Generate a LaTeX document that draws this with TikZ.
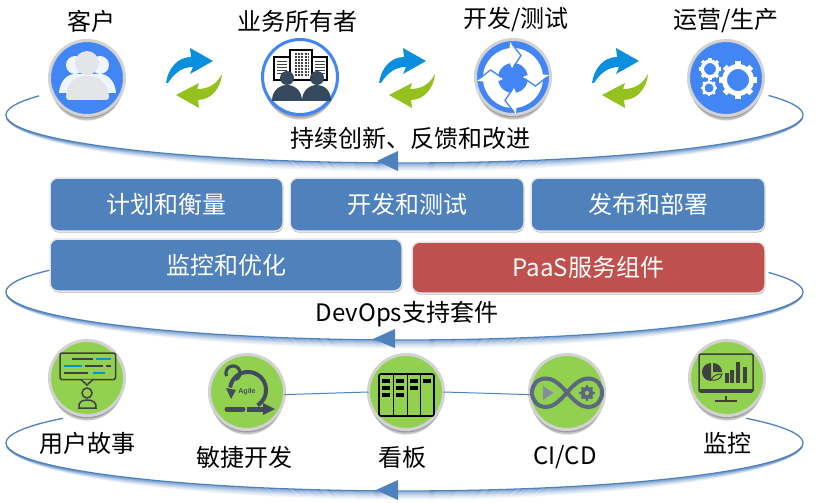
\documentclass[tikz,border=0pt]{standalone}
\usepackage{fontspec}
\setmainfont{Noto Sans CJK SC}
\newfontfamily\agilefont{Liberation Sans}
\usetikzlibrary{shadows}
\definecolor{arcblue}{HTML}{4F81BD}
\definecolor{badgeblue}{HTML}{4285F4}
\definecolor{badgegreen}{HTML}{92D050}
\definecolor{ringgray}{HTML}{D2D2D2}
\definecolor{panelred}{HTML}{C0504D}
\definecolor{syncblue}{HTML}{0A8FDF}
\definecolor{syncgreen}{HTML}{95C11F}
\definecolor{inkdark}{HTML}{404040}
\definecolor{inkslate}{HTML}{34495E}
\definecolor{inkagile}{HTML}{424A5E}
\definecolor{inkloop}{HTML}{5C6780}
\tikzset{
  badge/.style={circle, draw=ringgray, line width=3, inner sep=0, outer sep=0, minimum size=75,
    general shadow={shadow yshift=-8pt, shadow scale=.94, fill=black, opacity=.10},
    general shadow={shadow yshift=-6pt, shadow scale=.97, fill=black, opacity=.14},
    general shadow={shadow yshift=-3pt, fill=black, opacity=.20}},
  panel/.style={draw=white!90!black, line width=1.5, rounded corners=8, inner sep=0, outer sep=0,
    text=white, font=\fontsize{24}{28}\selectfont, minimum height=53,
    general shadow={shadow yshift=-1.5pt, shadow xshift=.5pt, fill=black, opacity=.28}},
  caption/.style={inner sep=0, text=black, font=\fontsize{24}{28}\selectfont},
  ringline/.style={arcblue, line width=1.3},
}
% x y inner outer colour
\newcommand{\gearicon}[5]{
  \begin{scope}[shift={(#1,#2)}]
    \draw[#5, line width={#4-#3}] (0,0) circle ({(#3+#4)/2});
    \foreach \a in {0,45,...,315}
      \draw[#5, line width={(#4)*.34}] (\a:#3) -- (\a:{#4+(#4)*.18});
  \end{scope}}
% one ring: centre y, then start and end of the visible part
\newcommand{\ringarc}[3]{
  \foreach \k/\o in {1/.55,2/.45,3/.35,4/.27,5/.2,6/.14,7/.09,8/.05}
    \draw[arcblue, line width=1.3, opacity=\o, domain=176:4, samples=90]
      plot ({404.5+398.5*cos(\x)}, {#1+(48+\k)*sin(\x)});
  \draw[ringline, domain=#2:#3, samples=120] plot ({404.5+398.5*cos(\x)}, {#1+48*sin(\x)});}
\begin{document}
\begin{tikzpicture}[x=1pt,y=-1pt]
  \useasboundingbox (0,0) rectangle (820,503);
  %rings
  \ringarc{115}{203.5}{-24}
  \ringarc{292}{211}{-24}
  \ringarc{443}{211}{-31}
  \fill[arcblue] (377,161) -- (398,151) -- (398,171) -- cycle;
  \fill[arcblue] (373,339) -- (395,329) -- (395,348) -- cycle;
  \fill[arcblue] (376,490) -- (398,480) -- (398,500) -- cycle;
  %top row
  \node[badge, fill=badgeblue] (customer) at (87,78) {};
  \node[badge, fill=white, draw=badgeblue] (owner) at (300,77) {};
  \node[badge, fill=badgeblue] (devtest) at (513,77) {};
  \node[badge, fill=badgeblue] (ops) at (726,78) {};
  \node[caption] (customerlabel) at (91,21) {客户};
  \node[caption] (ownerlabel) at (297,21) {业务所有者};
  \node[caption] (devtestlabel) at (516,20) {开发/测试};
  \node[caption] (opslabel) at (726,21) {运营/生产};
  \node[caption] (feedbacklabel) at (410,138) {持续创新、反馈和改进};
  %sync arrows
  \foreach \dx in {0,213,426} {
    \begin{scope}[shift={(\dx,0)}]
      \fill[syncblue] (166,83) .. controls (168,68) and (178,57) .. (191,57) -- (190,48) -- (213,61)
        -- (190,74) -- (193,67) .. controls (183,67) and (175,72) .. (168,83) -- cycle;
      \fill[syncgreen] (222,74) .. controls (221,88) and (211,100) .. (198,100) -- (199,108) -- (176,95)
        -- (199,83) -- (197,89) .. controls (208,89) and (216,85) .. (222,74) -- cycle;
    \end{scope}
  }
  %customer icon
  \fill[white!92!badgeblue] (75,65) circle (9) (100,65) circle (9);
  \fill[white!92!badgeblue] (59,93) .. controls (60,80) and (68,74) .. (75,74) -- (100,74) .. controls (107,74) and (115,80) .. (116,93) -- cycle;
  \fill[white!86!inkslate] (87,63) circle (12);
  \fill[white!86!inkslate, rounded corners=3] (66,100) .. controls (66,84) and (76,76) .. (87,76) .. controls (98,76) and (109,84) .. (109,100) -- cycle;
  %owner icon
  \draw[black, line width=1.2, fill=white] (274,57) rectangle (290,80) (312,57) rectangle (327,80) (290,50) rectangle (312,80);
  \foreach \y in {61,64,...,73}
    \draw[inkdark, line width=.9] (277,\y) -- (287,\y) (315,\y) -- (325,\y);
  \foreach \y in {54,57,...,75}
    \draw[inkdark, line width=1.1, dash pattern=on 2pt off 1.2pt] (295,\y) -- (308,\y);
  \fill[inkslate] (287,78) circle (7) (317,78) circle (7);
  \fill[inkslate] (272,101) .. controls (272,90) and (280,85) .. (287,85) .. controls (294,85) and (302,90) .. (302,101) -- cycle;
  \fill[inkslate] (302,101) .. controls (302,90) and (310,85) .. (317,85) .. controls (324,85) and (331,90) .. (331,101) -- cycle;
  %dev icon
  \fill[white] (513,78) circle (30);
  \fill[badgeblue] (513,78) circle (15);
  \begin{scope}[shift={(513,78)}]
    \foreach \a in {0,90,180,270} {
      \begin{scope}[rotate=\a]
        \fill[white] (-3,-36) -- (8,-22.5) -- (-4,-22.5) -- cycle;
        \fill[white] (-3,-14.5) -- (3,-16) -- (-1,-10) -- cycle;
        \draw[badgeblue, line width=1.3] (1,-12) -- (8,-22.5) -- (-1,-34);
      \end{scope}
    }
  \end{scope}
  %ops icon
  \gearicon{738}{80}{11}{16}{white}
  \gearicon{710}{69}{6}{9.5}{white}
  \gearicon{709}{88}{4.5}{7}{white}
  %panels
  \node[panel, fill=arcblue, minimum width=233] (plan) at (166.5,204.5) {计划和衡量};
  \node[panel, fill=arcblue, minimum width=234] (build) at (407,204.5) {开发和测试};
  \node[panel, fill=arcblue, minimum width=234] (release) at (648,204.5) {发布和部署};
  \node[panel, fill=arcblue, minimum width=352, minimum height=52] (watch) at (226,265) {监控和优化};
  \node[panel, fill=panelred, minimum width=353, minimum height=51] (paas) at (588.5,267.5) {PaaS服务组件};
  \node[caption] (suitelabel) at (407,314) {DevOps支持套件};
  %bottom row
  \node[badge, fill=badgegreen] (story) at (87,378) {};
  \node[badge, fill=badgegreen] (agile) at (247,392) {};
  \node[badge, fill=badgegreen] (kanban) at (406,392) {};
  \node[badge, fill=badgegreen] (cicd) at (567,392) {};
  \node[badge, fill=badgegreen] (monitor) at (727,378) {};
  \draw[ringline, line width=1] (agile.-4) -- (kanban.west);
  \draw[ringline, line width=1] (kanban.east) -- (cicd.184);
  \node[caption] (storylabel) at (87,443) {用户故事};
  \node[caption] (agilelabel) at (244,457) {敏捷开发};
  \node[caption] (kanbanlabel) at (402,457) {看板};
  \node[caption] (cicdlabel) at (565,457) {CI/CD};
  \node[caption] (monitorlabel) at (727,443) {监控};
  %story icon
  \draw[inkdark, line width=1.5, rounded corners=1.5] (60,353) rectangle (115.5,379.5);
  \draw[inkdark, line width=1.5, fill=badgegreen] (81,379.5) -- (87,385) -- (93,379.5);
  \draw[inkdark, line width=1.5] (72,359) -- (93,359) (85,366) -- (103,366) (106,366) -- (111,366) (64,373) -- (88,373);
  \draw[syncblue, line width=1.5] (96,359) -- (111,359) (64,366) -- (82,366) (93,373) -- (105,373);
  \draw[inkdark, line width=1.5] (87,393) circle (5);
  \draw[inkdark, line width=1.5] (79,408) .. controls (78,402) and (82,400) .. (87,400) .. controls (92,400) and (97,402) .. (96,408) -- cycle;
  %agile icon
  \draw[inkagile, line width=4, domain=58:-172, samples=50] plot ({248+18*cos(\x)}, {390+18*sin(\x)});
  \draw[inkagile, line width=3.2, domain=70:-205, samples=40] plot ({233+7*cos(\x)}, {373+7*sin(\x)});
  \fill[inkagile] (226,388) -- (236,390) -- (231,399) -- cycle;
  \draw[inkagile, line width=5, line cap=round] (227,409) -- (243,409);
  \draw[inkagile, line width=5] (247,409) -- (263,409);
  \fill[inkagile] (263,403) -- (275,409) -- (263,415) -- cycle;
  \node[inkagile, inner sep=0, font=\agilefont\fontsize{7}{8}\selectfont\bfseries] (agiletext) at (247,392) {Agile};
  %kanban icon
  \draw[black, line width=1.6, rounded corners=2] (379,374) rectangle (434,416);
  \draw[black, line width=.9] (393,374) -- (393,416) (407,374) -- (407,416) (420,374) -- (420,416);
  \foreach \x/\n in {382/3,396/3,410/2,423/1} {
    \foreach \y [count=\c] in {379,386,393} {
      \ifnum\c>\n\else
        \fill[black] (\x,\y) rectangle ++(7.5,4);
      \fi
    }
  }
  %loop icon
  \draw[inkloop, line width=4] (567,392.5) .. controls (558,382) and (552,378.5) .. (546,378.5)
    .. controls (537,378.5) and (532,385) .. (532,392.5) .. controls (532,400) and (537,407) .. (546,407)
    .. controls (552,407) and (558,403) .. (567,392.5) .. controls (576,382) and (582,378.5) .. (588,378.5)
    .. controls (597,378.5) and (602,385) .. (602,392.5) .. controls (602,400) and (597,407) .. (588,407)
    .. controls (582,407) and (576,403) .. (567,392.5) -- cycle;
  \fill[inkloop!75!white] (543,386) -- (553.5,393) -- (543,400) -- cycle;
  \gearicon{587}{393}{2.5}{6.5}{inkloop}
  %monitor icon
  \draw[inkdark, line width=1.5, rounded corners=1.5] (699,354) rectangle (753,392);
  \draw[inkdark, line width=3] (699,390) -- (753,390);
  \draw[inkdark, line width=2.5] (715,401) -- (737,401);
  \draw[inkdark, line width=2.5] (726,396) -- (726,401);
  \fill[inkdark] (711,372) -- (711,363) arc[start angle=-90, end angle=-270, radius=9] -- cycle;
  \fill[inkdark] (713,363) .. controls (718,363) and (722,367) .. (722,372) -- (713,372) -- cycle;
  \draw[inkdark, line width=1] (711,380) .. controls (713,375) and (718,374) .. (722,374) .. controls (721,379) and (716,381) .. (711,380) -- cycle;
  \foreach \x/\y in {727/373,732/370,738/362,745/367}
    \fill[inkdark] (\x-2,\y) rectangle (\x+2,383);
\end{tikzpicture}
\end{document}
